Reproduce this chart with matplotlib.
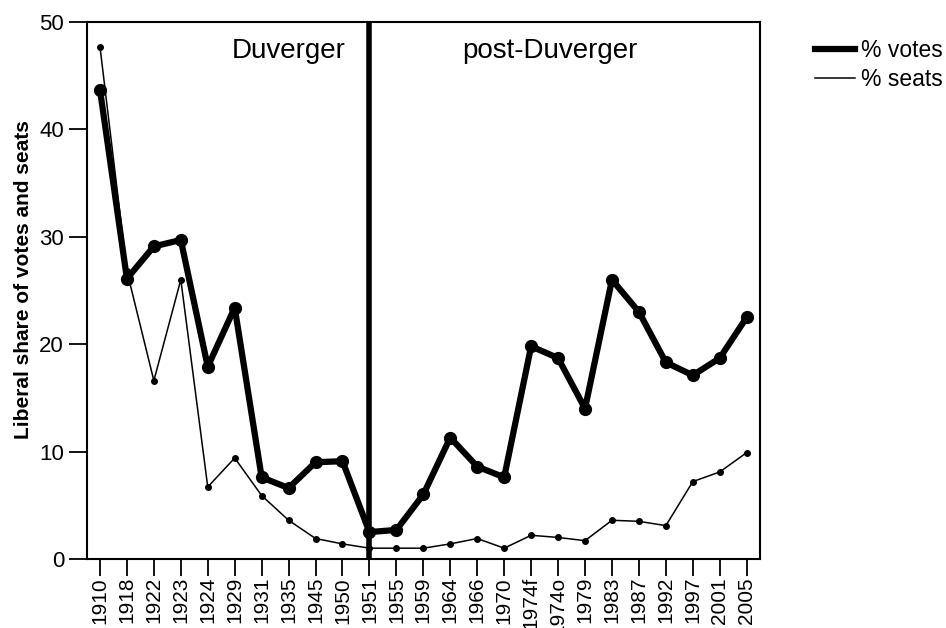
import numpy as np
import matplotlib.pyplot as plt
from matplotlib.lines import Line2D

plt.rcParams['font.family'] = ['Liberation Sans', 'DejaVu Sans']

years = ['1910', '1918', '1922', '1923', '1924', '1929', '1931', '1935', '1945', '1950',
         '1951', '1955', '1959', '1964', '1966', '1970', '1974f', '1974o', '1979', '1983',
         '1987', '1992', '1997', '2001', '2005']
votes = [43.7, 26.1, 29.1, 29.7, 17.9, 23.4, 7.6, 6.6, 9.0, 9.1,
         2.5, 2.7, 6.0, 11.3, 8.6, 7.6, 19.8, 18.7, 14.0, 26.0,
         23.0, 18.3, 17.1, 18.7, 22.5]
seats = [47.7, 26.8, 16.6, 26.0, 6.7, 9.4, 5.9, 3.6, 1.9, 1.4,
         1.0, 1.0, 1.0, 1.4, 1.9, 1.0, 2.2, 2.0, 1.7, 3.6,
         3.5, 3.1, 7.2, 8.1, 9.9]
split_year = '1951'

fig = plt.figure(figsize=(9.46, 6.28), dpi=100)
ax = fig.add_axes([0.092, 0.110, 0.711, 0.855])

x = np.arange(len(years))
ax.plot(x, seats, color='black', lw=1.1, marker='o', ms=4)
ax.plot(x, votes, color='black', lw=4.5, marker='o', ms=8.5)
ax.axvline(years.index(split_year), color='black', lw=4)

ax.set_xlim(-0.48, len(years) - 0.52)
ax.set_ylim(0, 50)
ax.set_xticks(x)
ax.set_xticklabels(years, rotation=90, fontsize=15)
ax.set_yticks([0, 10, 20, 30, 40, 50])
ax.tick_params(axis='y', length=13, width=1.3, labelsize=16)
ax.tick_params(axis='x', length=12, width=1.3, pad=1)
for s in ax.spines.values():
    s.set_linewidth(1.5)

ax.set_ylabel('Liberal share of votes and seats', fontsize=15, fontweight='bold')
ax.yaxis.set_label_coords(-0.080, 0.52)

ax.text(7.0, 47.3, 'Duverger', fontsize=20, ha='center', va='center')
ax.text(16.7, 47.3, 'post-Duverger', fontsize=20, ha='center', va='center')

handles = [Line2D([], [], color='black', lw=4.5), Line2D([], [], color='black', lw=1.1)]
ax.legend(handles, ['% votes', '% seats'], loc='upper left', bbox_to_anchor=(1.068, 0.985),
          frameon=False, fontsize=16.5, handlelength=1.75, handletextpad=0.26, labelspacing=0.25,
          borderaxespad=0)

fig.savefig('out.png', dpi=100)
